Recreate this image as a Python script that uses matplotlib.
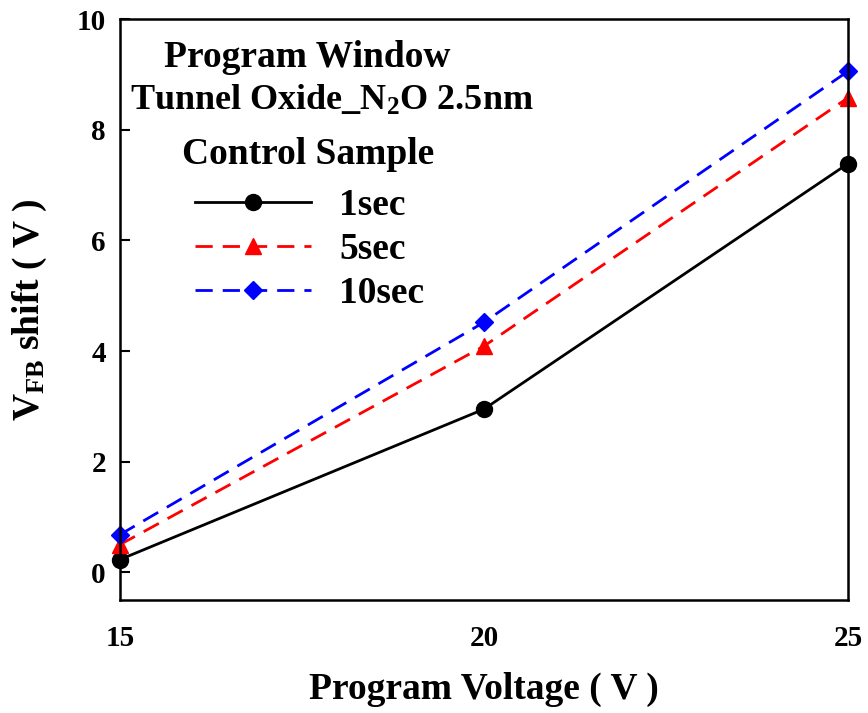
import matplotlib
matplotlib.use("Agg")
import matplotlib.pyplot as plt

voltage = [15, 20, 25]
shift_1s = [0.23, 2.95, 7.39]
shift_5s = [0.50, 4.09, 8.58]
shift_10s = [0.68, 4.52, 9.06]

plt.rcParams['font.family'] = 'serif'
plt.rcParams['font.serif'] = ['Liberation Serif', 'DejaVu Serif']
plt.rcParams['font.weight'] = 'bold'
plt.rcParams['mathtext.fontset'] = 'custom'
plt.rcParams['mathtext.rm'] = 'Liberation Serif:bold'
plt.rcParams['mathtext.it'] = 'Liberation Serif:bold'
plt.rcParams['mathtext.bf'] = 'Liberation Serif:bold'

fig = plt.figure(figsize=(8.68, 7.13), dpi=100)
ax = fig.add_axes([0.138, 0.1585, 0.839, 0.8145])

ax.plot(voltage, shift_1s, color="black", linestyle='-', linewidth=2.0,
        marker='o', markersize=11.5, label="1sec")
ax.plot(voltage, shift_5s, color="red", linewidth=2.0, dashes=(6.2, 3.6),
        marker='^', markersize=11, label="5sec")
ax.plot(voltage, shift_10s, color="blue", linewidth=2.0, dashes=(6.2, 3.6),
        marker='D', markersize=9.5, label="10sec")

ax.set_xlim(15, 25)
ax.set_ylim(-0.5, 10)
ax.set_xticks([15, 20, 25])
ax.set_yticks([0, 2, 4, 6, 8, 10])
ax.tick_params(axis='y', direction='in', length=7, width=1.5, labelsize=21, pad=10)
ax.tick_params(axis='x', length=0, labelsize=21, pad=18)
for sp in ax.spines.values():
    sp.set_linewidth(1.8)
for m in ax.lines:
    m.set_clip_on(False)

ax.set_xlabel("Program Voltage ( V )", fontsize=27, fontweight='bold', labelpad=14)
ax.set_ylabel(r"V$_{\mathrm{FB}}$ shift ( V )", fontsize=27, fontweight='bold', labelpad=20)

# header lines above the legend
ax.text(0.258, 0.934, "Program Window", transform=ax.transAxes,
        ha='center', va='center', fontsize=27, fontweight='bold')
ax.text(0.014, 0.860, r"Tunnel Oxide_N$_2$O 2.5nm", transform=ax.transAxes,
        ha='left', va='center', fontsize=26, fontweight='bold')
ax.text(0.258, 0.767, "Control Sample", transform=ax.transAxes,
        ha='center', va='center', fontsize=27, fontweight='bold')

ax.legend(loc='center left', bbox_to_anchor=(0.103, 0.604), frameon=False,
          handlelength=3.1, handletextpad=0.75, labelspacing=0.24,
          borderpad=0, borderaxespad=0, prop={'weight': 'bold', 'size': 27})

plt.savefig("out.png", dpi=100)
plt.close()
